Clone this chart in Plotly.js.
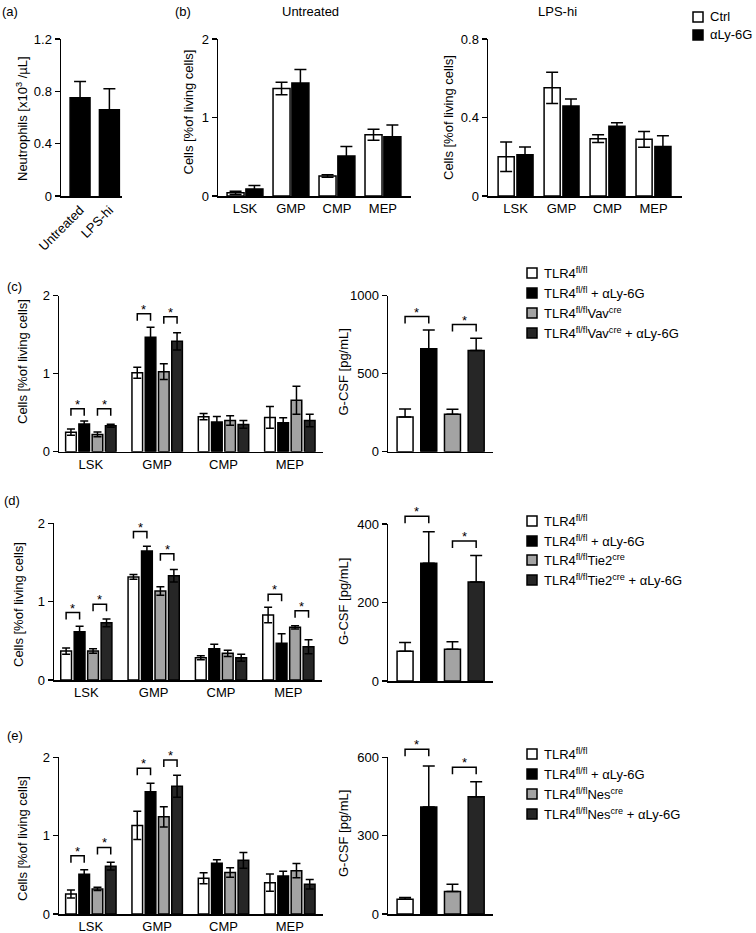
<!DOCTYPE html>
<html><head><meta charset="utf-8">
<script src="https://cdn.plot.ly/plotly-3.0.1.min.js"></script>
<style>body{margin:0;background:#fff;} #chart{width:756px;height:933px;}</style>
</head><body><div id="chart"></div>
<script>
// ================= DATA =================
// (a) neutrophils
const aCats = ['Untreated', 'LPS-hi'];
const aNeut = [0.75, 0.66];
const aNeutErr = [0.125, 0.16];

// (b) progenitors, Ctrl vs aLy-6G
const progenitors = ['LSK', 'GMP', 'CMP', 'MEP'];
const bSeries = ['Ctrl', 'αLy-6G'];
const bUntrCtrl = [0.04, 1.37, 0.255, 0.78];
const bUntrCtrlErr = [0.02, 0.08, 0.015, 0.07];
const bUntrAly = [0.09, 1.44, 0.51, 0.755];
const bUntrAlyErr = [0.045, 0.17, 0.12, 0.15];
const bLpsCtrl = [0.20, 0.551, 0.292, 0.289];
const bLpsCtrlErr = [0.075, 0.08, 0.02, 0.04];
const bLpsAly = [0.21, 0.459, 0.356, 0.252];
const bLpsAlyErr = [0.04, 0.035, 0.017, 0.055];

// (c) Vav-cre
const cNames = ['TLR4<sup>fl/fl</sup>', 'TLR4<sup>fl/fl</sup> + αLy-6G', 'TLR4<sup>fl/fl</sup>Vav<sup>cre</sup>', 'TLR4<sup>fl/fl</sup>Vav<sup>cre</sup> + αLy-6G'];
const cFl = [0.25, 1.013, 0.449, 0.44];       const cFlErr = [0.04, 0.07, 0.04, 0.14];
const cFlAly = [0.355, 1.466, 0.38, 0.37];    const cFlAlyErr = [0.04, 0.13, 0.07, 0.065];
const cCre = [0.222, 1.026, 0.40, 0.66];      const cCreErr = [0.03, 0.10, 0.06, 0.18];
const cCreAly = [0.333, 1.415, 0.35, 0.40];   const cCreAlyErr = [0.02, 0.11, 0.05, 0.08];
const cGcsf = [223, 660, 240, 649];           const cGcsfErr = [50, 120, 32, 78];
// significance: [group, barA, barB, bracket height]
const cCellsSig = [[0, 0, 1, 0.55], [0, 2, 3, 0.55], [1, 0, 1, 1.77], [1, 2, 3, 1.73]];
const cGcsfSig = [[0, 1, 866], [2, 3, 815]];

// (d) Tie2-cre
const dNames = ['TLR4<sup>fl/fl</sup>', 'TLR4<sup>fl/fl</sup> + αLy-6G', 'TLR4<sup>fl/fl</sup>Tie2<sup>cre</sup>', 'TLR4<sup>fl/fl</sup>Tie2<sup>cre</sup> + αLy-6G'];
const dFl = [0.37, 1.315, 0.285, 0.83];       const dFlErr = [0.04, 0.03, 0.025, 0.10];
const dFlAly = [0.617, 1.647, 0.40, 0.47];    const dFlAlyErr = [0.07, 0.06, 0.055, 0.12];
const dCre = [0.37, 1.136, 0.34, 0.672];      const dCreErr = [0.03, 0.055, 0.04, 0.022];
const dCreAly = [0.73, 1.33, 0.285, 0.425];   const dCreAlyErr = [0.05, 0.08, 0.045, 0.09];
const dGcsf = [76, 300, 81, 252];             const dGcsfErr = [22, 80, 19, 68];
const dCellsSig = [[0, 0, 1, 0.86], [0, 2, 3, 0.966], [1, 0, 1, 1.894], [1, 2, 3, 1.61], [3, 0, 1, 1.094], [3, 2, 3, 0.885]];
const dGcsfSig = [[0, 1, 420], [2, 3, 357]];

// (e) Nes-cre
const eNames = ['TLR4<sup>fl/fl</sup>', 'TLR4<sup>fl/fl</sup> + αLy-6G', 'TLR4<sup>fl/fl</sup>Nes<sup>cre</sup>', 'TLR4<sup>fl/fl</sup>Nes<sup>cre</sup> + αLy-6G'];
const eFl = [0.255, 1.13, 0.455, 0.40];       const eFlErr = [0.05, 0.18, 0.07, 0.11];
const eFlAly = [0.506, 1.56, 0.647, 0.485];   const eFlAlyErr = [0.06, 0.11, 0.045, 0.06];
const eCre = [0.32, 1.24, 0.53, 0.553];       const eCreErr = [0.02, 0.13, 0.06, 0.09];
const eCreAly = [0.61, 1.63, 0.685, 0.38];    const eCreAlyErr = [0.05, 0.14, 0.10, 0.06];
const eGcsf = [56, 410, 86, 449];             const eGcsfErr = [7, 157, 28, 57];
const eCellsSig = [[0, 0, 1, 0.745], [0, 2, 3, 0.85], [1, 0, 1, 1.86], [1, 2, 3, 1.966]];
const eGcsfSig = [[0, 1, 631], [2, 3, 562]];

// ================= STYLE / LAYOUT =================
const W = 756, H = 933;
const FAM = 'Liberation Sans, Arial, Helvetica, sans-serif';
const FONT = {family: FAM, size: 13, color: '#000'};
const COLORS4 = ['#ffffff', '#000000', '#a3a3a3', '#262626'];
const COLORS2 = ['#ffffff', '#000000'];
const LW = 1.5;
const px = x => x / W;
const py = y => 1 - y / H;

const traces = [], shapes = [], annotations = [], layout = {};

function addAxes(n, box, xrange, yrange, dtick, ticktext, tickangle) {
  const sfx = n === 1 ? '' : String(n);
  layout['xaxis' + sfx] = {
    domain: [px(box[0]), px(box[1])], range: xrange, anchor: 'y' + sfx,
    showline: true, linewidth: LW, linecolor: '#000', ticks: '', showgrid: false, zeroline: false,
    tickvals: ticktext ? ticktext.map((_, i) => i) : [], ticktext: ticktext || [],
    showticklabels: !!ticktext, tickfont: FONT, tickangle: tickangle || 0, fixedrange: true
  };
  layout['yaxis' + sfx] = {
    domain: [py(box[3]), py(box[2])], range: yrange, anchor: 'x' + sfx,
    showline: true, linewidth: LW, linecolor: '#000', ticks: 'outside', ticklen: 5, tickwidth: LW,
    tickcolor: '#000', showgrid: false, zeroline: false, tick0: 0, dtick: dtick, tickfont: FONT, fixedrange: true
  };
  return {xa: 'x' + sfx, ya: 'y' + sfx, box, yrange};
}

function addBars(ax, vals, errs, color, offset, width, capw, oneSided) {
  const err = {type: 'data', array: errs, visible: true, color: '#000', thickness: LW, width: capw};
  if (oneSided) { err.symmetric = false; err.arrayminus = errs.map(() => 0); }
  traces.push({
    type: 'bar', x: vals.map((_, i) => i), y: vals, xaxis: ax.xa, yaxis: ax.ya,
    offset: offset, width: width, marker: {color: color, line: {color: '#000', width: LW}},
    error_y: err, showlegend: false, hoverinfo: 'skip'
  });
}

function yToPaper(ax, v) {
  const d0 = py(ax.box[3]), d1 = py(ax.box[2]);
  return d0 + (v - ax.yrange[0]) / (ax.yrange[1] - ax.yrange[0]) * (d1 - d0);
}

// significance bracket (shape) + star (annotation)
function addBracket(ax, xA, xB, yv) {
  const yt = yToPaper(ax, yv), leg = 7 / H;
  shapes.push({type: 'path', xref: ax.xa, yref: 'paper',
    path: `M${xA},${yt - leg} L${xA},${yt} L${xB},${yt} L${xB},${yt - leg}`,
    line: {color: '#000', width: LW}});
  annotations.push({xref: ax.xa, yref: 'paper', x: (xA + xB) / 2, y: yt, text: '*', showarrow: false,
    xanchor: 'center', yanchor: 'bottom', yshift: -5, font: {family: FAM, size: 13, color: '#000'}});
}

function textAnn(x, y, text, opts) {
  annotations.push(Object.assign({xref: 'paper', yref: 'paper', x: px(x), y: py(y), text: text, showarrow: false,
    xanchor: 'center', yanchor: 'middle', font: FONT}, opts || {}));
}

function legend(x, ys, names, colors) {
  names.forEach((nm, i) => {
    shapes.push({type: 'rect', xref: 'paper', yref: 'paper', x0: px(x), x1: px(x + 10),
      y0: py(ys[i] + 5), y1: py(ys[i] - 5), fillcolor: colors[i], line: {color: '#000', width: LW}});
    textAnn(x + 15, ys[i], nm, {xanchor: 'left'});
  });
}

// ---- (a)
const A = addAxes(1, [61, 122, 39, 196], [-0.65, 1.43], [0, 1.2], 0.4, aCats, -45);
addBars(A, aNeut, aNeutErr, '#000', -0.34, 0.68, 6, true);

// ---- (b)
const B1 = addAxes(2, [218, 411, 39, 196], [-0.587, 3.61], [0, 2], 1, progenitors);
addBars(B1, bUntrCtrl, bUntrCtrlErr, COLORS2[0], -0.39, 0.37, 6, false);
addBars(B1, bUntrAly, bUntrAlyErr, COLORS2[1], 0.02, 0.37, 6, false);
const B2 = addAxes(3, [488, 682, 39, 196], [-0.6, 3.62], [0, 0.8], 0.4, progenitors);
addBars(B2, bLpsCtrl, bLpsCtrlErr, COLORS2[0], -0.38, 0.35, 6, false);
addBars(B2, bLpsAly, bLpsAlyErr, COLORS2[1], 0.03, 0.35, 6, false);

// ---- (c), (d), (e)
const SLOT = 0.2, BW = 0.16;
const barOff = i => -2 * SLOT + i * SLOT + (SLOT - BW) / 2;
const barCenter = (g, i) => g + barOff(i) + BW / 2;
const GW = 0.675;

function cellPanel(n, box, series, errs, sig) {
  const ax = addAxes(n, box, [-0.48, 3.5], [0, 2], 1, progenitors);
  series.forEach((s, i) => addBars(ax, s, errs[i], COLORS4[i], barOff(i), BW, 4, false));
  sig.forEach(s => addBracket(ax, barCenter(s[0], s[1]), barCenter(s[0], s[2]), s[3]));
}
function gcsfPanel(n, box, vals, errs, ymax, dtick, sig) {
  const ax = addAxes(n, box, [-0.72, 3.71], [0, ymax], dtick, null);
  vals.forEach((v, i) => {
    const one = vals.map((_, j) => j === i ? v : null);
    const oneErr = errs.map((e, j) => j === i ? e : 0);
    addBars(ax, one, oneErr, COLORS4[i], -GW / 2, GW, 6, true);
  });
  sig.forEach(s => addBracket(ax, s[0], s[1], s[2]));
}

cellPanel(4, [59, 323, 295.7, 451.7], [cFl, cFlAly, cCre, cCreAly], [cFlErr, cFlAlyErr, cCreErr, cCreAlyErr], cCellsSig);
gcsfPanel(5, [388, 493, 295.7, 451.7], cGcsf, cGcsfErr, 1000, 500, cGcsfSig);
cellPanel(6, [54, 322, 523.3, 680], [dFl, dFlAly, dCre, dCreAly], [dFlErr, dFlAlyErr, dCreErr, dCreAlyErr], dCellsSig);
gcsfPanel(7, [388, 493, 524, 681], dGcsf, dGcsfErr, 400, 200, dGcsfSig);
cellPanel(8, [59, 323, 757.3, 914], [eFl, eFlAly, eCre, eCreAly], [eFlErr, eFlAlyErr, eCreErr, eCreAlyErr], eCellsSig);
gcsfPanel(9, [388, 493, 757.3, 914], eGcsf, eGcsfErr, 600, 300, eGcsfSig);

// ---- texts
textAnn(10, 12, '(a)');
textAnn(183, 12, '(b)');
textAnn(310, 12, 'Untreated');
textAnn(557, 12, 'LPS-hi');
textAnn(14, 287, '(c)');
textAnn(12, 500, '(d)');
textAnn(15, 735, '(e)');

const cellsTitle = 'Cells [%of living cells]';
const gcsfTitle = 'G-CSF [pg/mL]';
const rot = {textangle: -90};
textAnn(22, 119, 'Neutrophils [x10<sup>3</sup> /µL]', rot);
textAnn(188, 112.5, cellsTitle, rot);
textAnn(448, 118, cellsTitle, rot);
textAnn(22, 362, cellsTitle, rot);
textAnn(343, 372.5, gcsfTitle, rot);
textAnn(18, 605, cellsTitle, rot);
textAnn(343, 602, gcsfTitle, rot);
textAnn(22, 839, cellsTitle, rot);
textAnn(343, 834, gcsfTitle, rot);

// ---- legends
legend(693, [17, 35], bSeries, COLORS2);
legend(527, [273, 293, 313, 333], cNames, COLORS4);
legend(527, [521, 541, 560, 580], dNames, COLORS4);
legend(527, [754, 774, 794, 814], eNames, COLORS4);

Object.assign(layout, {
  width: W, height: H, margin: {l: 0, r: 0, t: 0, b: 0},
  paper_bgcolor: '#fff', plot_bgcolor: '#fff', barmode: 'overlay',
  showlegend: false, font: FONT, shapes: shapes, annotations: annotations
});

Plotly.newPlot('chart', traces, layout, {staticPlot: true, displayModeBar: false});
</script></body></html>
